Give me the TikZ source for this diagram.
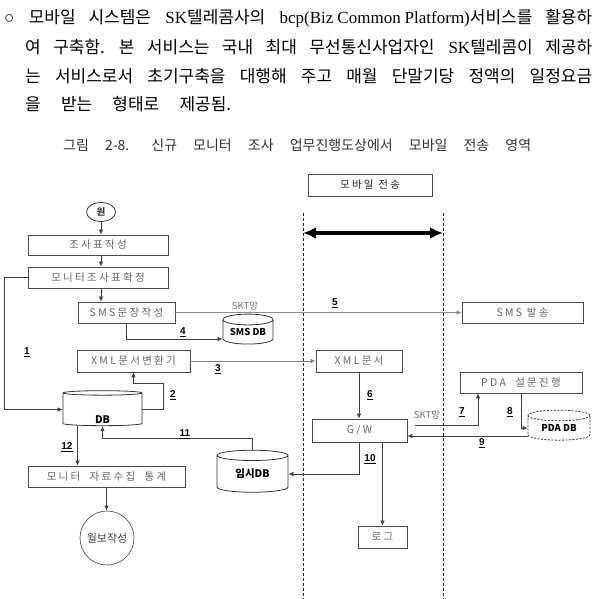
\documentclass[tikz,border=0pt]{standalone}
\usepackage{fontspec}
\setmainfont{Liberation Serif}
\newfontfamily\kr{Noto Sans CJK KR}
\newfontfamily\krbox{Noto Sans CJK KR}[LetterSpace=22]
\newfontfamily\numfont{Liberation Sans}
\usetikzlibrary{arrows.meta,shapes.geometric}
\frenchspacing

\tikzset{
  box/.style={draw=black!70, line width=0.8pt, fill=white, inner sep=0pt,
    text=black!60, font=\krbox\fontsize{10.5}{10.5}\selectfont},
  dbshape/.style={cylinder, shape border rotate=90, aspect=0.3, draw=black!80,
    line width=0.8pt, fill=white, inner sep=0pt, text=black,
    font=\kr\bfseries\fontsize{10.5}{10.5}\selectfont},
  num/.style={inner sep=0pt, font=\numfont\bfseries\fontsize{10}{10}\selectfont},
  conn/.style={draw=black!75, line width=0.7pt, -{Latex[length=5pt,width=4.5pt]}},
  lane/.style={draw=black!85, line width=0.8pt, dash pattern=on 3pt off 2pt},
  para/.style={anchor=west, inner sep=0pt, font=\fontsize{17}{17}\selectfont}
}

\begin{document}
\begin{tikzpicture}[x=1pt, y=-1pt]

	\useasboundingbox (0,0) rectangle (593,599);

	% Paragraph above the figure
	\node[para] (line1) at (4,18) {\makebox[588pt][s]{○ {\kr 모바일 시스템은} SK{\kr 텔레콤사의} bcp(Biz\hspace{4pt}Common\hspace{4pt}Platform){\kr 서비스를 활용하}}};
	\node[para] (line2) at (25,47) {\makebox[567pt][s]{{\kr 여 구축함.} {\kr 본 서비스는 국내 최대 무선통신사업자인} SK{\kr 텔레콤이 제공하}}};
	\node[para] (line3) at (25,76) {\makebox[567pt][s]{\kr 는 서비스로서 초기구축을 대행해 주고 매월 단말기당 정액의 일정요금}};
	\node[para] (line4) at (25,104) {\makebox[206pt][s]{\kr 을 받는 형태로 제공됨.}};

	% Caption
	\node[anchor=west, inner sep=0pt, text=black!80, font=\kr\fontsize{14}{14}\selectfont]
		(caption) at (63,145) {\makebox[468pt][s]{그림 2-8.\kern6pt{} 신규 모니터 조사 업무진행도상에서 모바일 전송 영역}};

	% Mobile transfer zone
	\node[box, text=black!85, minimum width=124, minimum height=22] (mobile) at (370,185) {모바일 전송};
	\coordinate (laneLtop) at (303,213);
	\coordinate (laneRtop) at (443,213);
	\draw[lane] (laneLtop) -- (303,599);
	\draw[lane] (laneRtop) -- (443,599);
	\draw[line width=3.5pt, {Latex[length=13pt,width=12pt]}-{Latex[length=13pt,width=12pt]}]
		(303,233) -- (443,233);

	% Left column
	\node[ellipse, draw=black!75, line width=0.8pt, minimum width=29, minimum height=19, inner sep=0pt,
		text=black!75, font=\kr\bfseries\fontsize{9.5}{9.5}\selectfont] (start) at (101,212) {원};
	\node[box, minimum width=140, minimum height=20] (jossa) at (98,245) {조사표작성};
	\node[box, minimum width=140, minimum height=21] (hwakjeong) at (98,277.5) {모니터조사표확정};
	\node[box, minimum width=97, minimum height=21] (smsjak) at (126.5,312.5) {SMS문장작성};
	\node[box, minimum width=113, minimum height=22] (xmlconv) at (133.5,361) {XML문서변환기};
	\node[dbshape, minimum width=79, minimum height=35] (db) at (102.5,409.5) {\raisebox{-14pt}[0pt][0pt]{DB}};
	\node[box, minimum width=157, minimum height=21] (stat) at (106.5,476.5) {모니터~~자료수집~~통계};
	\node[circle, draw=black!65, line width=0.7pt, minimum size=54, inner sep=0pt,
		text=black!75, font=\kr\fontsize{11}{11}\selectfont] (wolbo) at (107,538) {월보작성};

	% Middle column
	\node[dbshape, minimum width=50, minimum height=30, font=\kr\bfseries\fontsize{9.5}{9.5}\selectfont] (smsdb) at (248,332) {SMS DB};
	\node[dbshape, minimum width=71, minimum height=42] (imsidb) at (252.5,474) {임시DB};
	\node[box, minimum width=86, minimum height=22] (xmldoc) at (359,361) {XML문서};
	\node[box, minimum width=95, minimum height=23] (gw) at (359.5,430.5) {G/W};
	\node[box, minimum width=49, minimum height=22] (logo) at (382.5,537) {로그};

	% Right column
	\node[box, minimum width=121, minimum height=21] (smsbal) at (522.5,312.5) {SMS 발송};
	\node[box, minimum width=122, minimum height=21] (pda) at (521,382.5) {PDA~ 설문진행};
	\node[dbshape, dash pattern=on 2pt off 1.5pt, minimum width=62, minimum height=30,
		font=\kr\bfseries\fontsize{9.5}{9.5}\selectfont] (pdadb) at (559,428) {PDA DB};

	% Network labels
	\node[text=black!55, font=\kr\fontsize{9.5}{9.5}\selectfont] (skt1) at (245,306) {SKT망};
	\node[text=black!55, font=\kr\fontsize{9.5}{9.5}\selectfont] (skt2) at (427,415) {SKT망};

	% Connectors
	\draw[conn] (start) -- (start |- jossa.north);
	\draw[conn] (jossa.south -| start) -- (hwakjeong.north -| start);
	\draw[conn] (hwakjeong.south -| start) -- (smsjak.north -| start);
	\draw[conn] (hwakjeong.west) -- ++(-23,0) |- (db.west);
	\draw[conn, draw=black!45] (smsjak.east) -- (smsbal.west);
	\draw[conn] (smsjak.south) |- ([yshift=-7pt]smsdb.west);
	\draw[conn, draw=black!50] (xmlconv.east) -- (xmldoc.west);
	\draw[conn] (db.east) -| (163,383) -| (xmlconv.south);
	\draw[conn] (imsidb.north) -- ++(0,-11) -| (db.south);
	\coordinate (dbout) at ([xshift=-25pt]db.south);
	\draw[conn] (dbout) -- (dbout |- stat.north);
	\draw[conn] (stat.south) -- (stat.south |- wolbo.north);
	\draw[conn] (xmldoc) -- (xmldoc |- gw.north);
	\draw[conn] (gw.south) |- (imsidb.east);
	\draw[conn] (gw.south -| logo) -- (logo.north);
	\coordinate (sktin) at (415,425);
	\draw[conn] (sktin) -| ([xshift=-43pt]pda.south);
	\draw[conn] (pda.south) |- (pdadb.west);
	\coordinate (pdaout) at ([yshift=-8pt]pdadb.west);
	\draw[conn] (pdaout) -- (pdaout -| gw.east);

	% Step numbers
	\node[num] (n1) at (27,352) {\underline{1}};
	\node[num] (n2) at (173,395) {\underline{2}};
	\node[num] (n3) at (218,369) {\underline{3}};
	\node[num] (n4) at (183,332) {\underline{4}};
	\node[num] (n5) at (335,303) {\underline{5}};
	\node[num] (n6) at (370,395) {\underline{6}};
	\node[num] (n7) at (462,412) {\underline{7}};
	\node[num] (n8) at (510,412) {\underline{8}};
	\node[num] (n9) at (482,443) {\underline{9}};
	\node[num] (n10) at (370,459) {\underline{10}};
	\node[num] (n11) at (185,434) {\underline{11}};
	\node[num] (n12) at (67,447) {\underline{12}};

\end{tikzpicture}
\end{document}
